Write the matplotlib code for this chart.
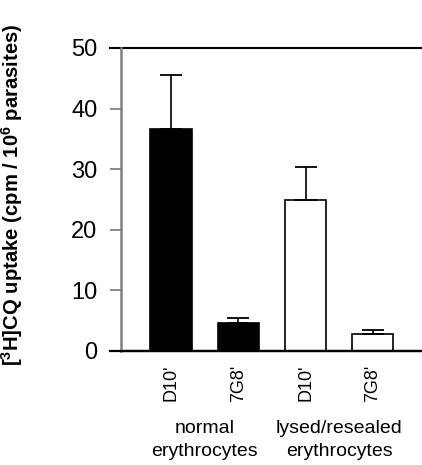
import matplotlib
matplotlib.use("Agg")
import matplotlib.pyplot as plt

# --- data ---
strains = ["D10'", "7G8'", "D10'", "7G8'"]
uptake = [36.6, 4.7, 24.9, 2.75]
uptake_err = [9.0, 0.8, 5.4, 0.75]
bar_fills = ["black", "black", "white", "white"]
groups = ["normal\nerythrocytes", "lysed/resealed\nerythrocytes"]

plt.rcParams['font.family'] = ['Liberation Sans', 'DejaVu Sans']
plt.rcParams['mathtext.fontset'] = 'custom'
plt.rcParams['mathtext.rm'] = 'Liberation Sans'
plt.rcParams['mathtext.bf'] = 'Liberation Sans:bold'

fig = plt.figure(figsize=(4.22, 4.65), dpi=100)
ax = fig.add_axes([0.2867, 0.2452, 0.7133, 0.6516])

xpos = list(range(len(uptake)))
ax.bar(xpos, uptake, width=0.61, color=bar_fills, edgecolor="black", linewidth=1.2, zorder=2)
ax.errorbar(xpos, uptake, yerr=[[0] * 4, uptake_err], fmt="none", ecolor="black",
            elinewidth=1.2, capsize=8, capthick=1.3, zorder=3)

ax.set_xlim(-0.743, 3.73)
ax.set_ylim(0, 50)
ax.set_yticks([0, 10, 20, 30, 40, 50])
ax.tick_params(axis="y", direction="out", length=8, width=1.2, color="#777777",
               labelsize=17, pad=9)
ax.set_xticks(xpos)
ax.set_xticklabels(strains, rotation=90, fontsize=13)
ax.tick_params(axis="x", length=0, pad=10)

for side in ["top", "right"]:
    ax.spines[side].set_visible(False)
ax.spines["left"].set_color("#808080")
ax.spines["left"].set_linewidth(1.8)
ax.spines["bottom"].set_linewidth(1.6)
ax.axhline(50, xmin=-0.037, xmax=1, color="black", linewidth=1.5, clip_on=False)
ax.axhline(0, xmin=-0.037, xmax=1, color="black", linewidth=1.6, clip_on=False)

ax.set_ylabel(r"[$^{\mathbf{3}}$H]CQ uptake (cpm / 10$^{\mathbf{6}}$ parasites)",
              fontsize=14.6, fontweight="bold")
ax.yaxis.set_label_coords(-0.318, 0.515)

for i, g in enumerate(groups):
    ax.text(2 * i + 0.5, -0.228, g, transform=ax.get_xaxis_transform(),
            ha="center", va="top", fontsize=14, linespacing=1.45)

fig.savefig("out.png", dpi=100)
